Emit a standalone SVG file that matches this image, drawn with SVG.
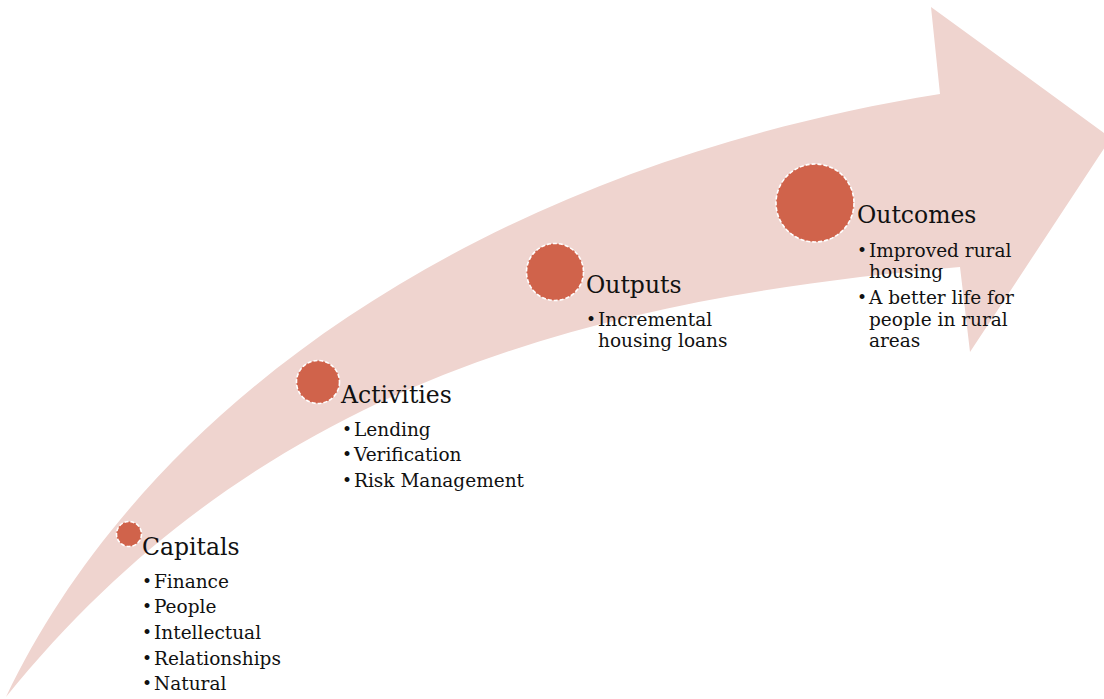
<svg xmlns="http://www.w3.org/2000/svg" width="1104" height="699" viewBox="0 0 1104 699">
  <style>
    .band { fill: #EFD4CF; }
    .dot { fill: #D0634B; stroke: #FFFFFF; stroke-width: 1.6; stroke-dasharray: 4 2; }
    .head { font-family: "DejaVu Serif", "Liberation Serif", serif; font-size: 23.5px; fill: #111111; }
    .item { font-family: "DejaVu Serif", "Liberation Serif", serif; font-size: 18.5px; fill: #111111; }
    .bul { font-family: "DejaVu Serif", "Liberation Serif", serif; font-size: 17px; fill: #111111; }
  </style>
  <rect width="1104" height="699" fill="#FFFFFF"/>

  <!-- curved progression arrow -->
  <g id="connectors">
    <path class="band" d="M 6,697 C 145,405 480,168 940,94 L 931,7 L 1111,138 L 970,352 L 960,267 C 600,298 262,380 6,697 Z"/>
  </g>

  <g id="capitals">
    <circle class="dot" cx="129" cy="534" r="12.5"/>
    <text class="head" x="142" y="555">Capitals</text>
    <g class="bul">
      <text x="142" y="587">•</text>
      <text x="142" y="612">•</text>
      <text x="142" y="638">•</text>
      <text x="142" y="664">•</text>
      <text x="142" y="689">•</text>
    </g>
    <g class="item">
      <text x="154" y="588">Finance</text>
      <text x="154" y="613">People</text>
      <text x="154" y="639">Intellectual</text>
      <text x="154" y="665">Relationships</text>
      <text x="154" y="690">Natural</text>
    </g>
  </g>

  <g id="activities">
    <circle class="dot" cx="318" cy="382" r="21.5"/>
    <text class="head" x="341" y="403">Activities</text>
    <g class="bul">
      <text x="342" y="435">•</text>
      <text x="342" y="460">•</text>
      <text x="342" y="486">•</text>
    </g>
    <g class="item">
      <text x="354" y="436">Lending</text>
      <text x="354" y="461">Verification</text>
      <text x="354" y="487">Risk Management</text>
    </g>
  </g>

  <g id="outputs">
    <circle class="dot" cx="555" cy="272" r="28.5"/>
    <text class="head" x="586" y="293">Outputs</text>
    <text class="bul" x="586" y="325">•</text>
    <g class="item">
      <text x="598" y="326">Incremental</text>
      <text x="598" y="347">housing loans</text>
    </g>
  </g>

  <g id="outcomes">
    <circle class="dot" cx="815" cy="203" r="39"/>
    <text class="head" x="857" y="223">Outcomes</text>
    <g class="bul">
      <text x="857" y="256">•</text>
      <text x="857" y="303">•</text>
    </g>
    <g class="item">
      <text x="869" y="257">Improved rural</text>
      <text x="869" y="278">housing</text>
      <text x="869" y="304">A better life for</text>
      <text x="869" y="326">people in rural</text>
      <text x="869" y="347">areas</text>
    </g>
  </g>
</svg>
